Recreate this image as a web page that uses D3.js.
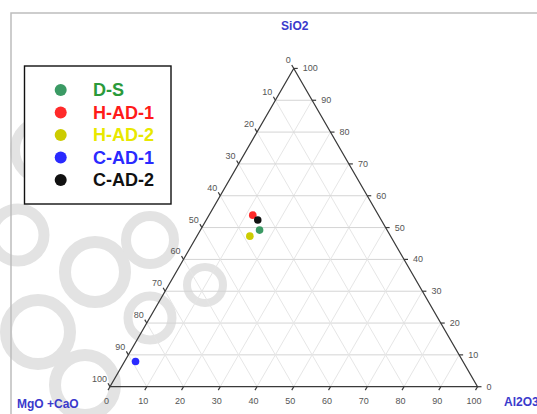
<!DOCTYPE html>
<html>
<head>
<meta charset="utf-8">
<script src="https://cdn.jsdelivr.net/npm/d3@7"></script>
<style>
  html, body { margin: 0; padding: 0; background: #fff; }
  svg { display: block; font-family: "Liberation Sans", Arial, sans-serif; }
</style>
</head>
<body>
<svg id="chart" width="537" height="414"></svg>
<script>
// ---- data ----
const categories = ["D-S", "H-AD-1", "H-AD-2", "C-AD-1", "C-AD-2"];
const sio2   = [49.2, 53.9, 47.3, 7.9, 52.4];
const al2o3  = [16.1, 11.9, 14.4, 3.0, 14.0];
const mgoCao = [34.7, 34.2, 38.3, 89.1, 33.6];
const tickValues = [0, 10, 20, 30, 40, 50, 60, 70, 80, 90, 100];
const axisTitles = ["SiO2", "MgO +CaO", "Al2O3"];

// ---- styles ----
const markerColors = ["#3b9a64", "#ff2a2a", "#cccc00", "#2a2aff", "#111111"];
const textColors   = ["#2a9a3a", "#ff1a1a", "#e8e800", "#2a2aff", "#111111"];

const svg = d3.select("#chart");

// background watermark (decorative, faint rings)
const wm = svg.append("g").attr("fill", "none").attr("stroke", "#e3e3e3");
[[95, 272, 30, 12], [38, 332, 32, 12], [150, 240, 24, 10], [85, 385, 30, 12],
 [18, 235, 26, 11], [150, 318, 22, 9], [45, 150, 30, 10], [205, 285, 18, 8]]
  .forEach(c => wm.append("circle").attr("cx", c[0]).attr("cy", c[1]).attr("r", c[2]).attr("stroke-width", c[3]));

// frame
svg.append("rect").attr("x", 11).attr("y", 13).attr("width", 560).attr("height", 440)
  .attr("fill", "none").attr("stroke", "#bdbdbd").attr("stroke-width", 1.5);

// ---- scales ----
const baseLeft = 110, baseRight = 477.5, baseY = 386.7;
const triH = (baseRight - baseLeft) * Math.sqrt(3) / 2;
const xs = d3.scaleLinear().domain([0, 100]).range([baseLeft, baseRight]);
const ys = d3.scaleLinear().domain([0, 100]).range([baseY, baseY - triH]);
// position from (Al2O3, SiO2) ; MgO+CaO = 100 - both
const px = (al, si) => xs(al + si / 2);
const py = (al, si) => ys(si);

// ---- grid ----
const grid = svg.append("g");
d3.range(10, 100, 10).forEach(v => {
  // constant SiO2 (horizontal)
  grid.append("line")
    .attr("x1", px(0, v)).attr("y1", py(0, v))
    .attr("x2", px(100 - v, v)).attr("y2", py(100 - v, v))
    .attr("stroke", "#d4d4d4").attr("stroke-width", 1);
  // constant Al2O3
  grid.append("line")
    .attr("x1", px(v, 0)).attr("y1", py(v, 0))
    .attr("x2", px(v, 100 - v)).attr("y2", py(v, 100 - v))
    .attr("stroke", "#e6e6e6").attr("stroke-width", 1);
  // constant MgO+CaO
  grid.append("line")
    .attr("x1", px(100 - v, 0)).attr("y1", py(100 - v, 0))
    .attr("x2", px(0, 100 - v)).attr("y2", py(0, 100 - v))
    .attr("stroke", "#e6e6e6").attr("stroke-width", 1);
});

// ---- triangle edges ----
const axesG = svg.append("g").attr("stroke", "#3a3a3a").attr("stroke-width", 1.2).attr("fill", "none");
axesG.append("path").attr("d",
  `M${px(0, 0)},${py(0, 0)} L${px(100, 0)},${py(100, 0)} L${px(0, 100)},${py(0, 100)} Z`);

const tickLen = 4;
const lab = svg.append("g").attr("font-size", 9).attr("fill", "#555");

tickValues.forEach(v => {
  // left axis: MgO+CaO (0 at apex, 100 at bottom-left)
  let x = px(0, 100 - v), y = py(0, 100 - v);
  axesG.append("line").attr("x1", x).attr("y1", y)
    .attr("x2", x - tickLen * 0.5).attr("y2", y - tickLen * 0.866);
  lab.append("text").attr("x", x - 3).attr("y", y - 8)
    .attr("text-anchor", "end").attr("dominant-baseline", "central").text(v);

  // right axis: SiO2 (100 at apex, 0 at bottom-right)
  x = px(100 - v, v); y = py(100 - v, v);
  axesG.append("line").attr("x1", x).attr("y1", y).attr("x2", x + tickLen).attr("y2", y);
  lab.append("text").attr("x", x + 9).attr("y", y)
    .attr("text-anchor", "start").attr("dominant-baseline", "central").text(v);

  // bottom axis: Al2O3 (0 at left, 100 at right)
  x = px(v, 0); y = py(v, 0);
  axesG.append("line").attr("x1", x).attr("y1", y)
    .attr("x2", x - tickLen * 0.5).attr("y2", y + tickLen * 0.866);
  lab.append("text").attr("x", x - 3.5).attr("y", y + 14)
    .attr("text-anchor", "middle").attr("dominant-baseline", "central").text(v);
});

// ---- axis titles ----
const titleG = svg.append("g").attr("font-size", 12).attr("font-weight", "bold").attr("fill", "#3a3acc");
titleG.append("text").attr("x", px(0, 100) + 1).attr("y", 26)
  .attr("text-anchor", "middle").attr("dominant-baseline", "central").text(axisTitles[0]);
titleG.append("text").attr("x", 17).attr("y", 404)
  .attr("text-anchor", "start").attr("dominant-baseline", "central").text(axisTitles[1]);
titleG.append("text").attr("x", 504).attr("y", 402)
  .attr("text-anchor", "start").attr("dominant-baseline", "central").text(axisTitles[2]);

// ---- points ----
svg.append("g").selectAll("circle")
  .data(categories.map((c, i) => ({ c, i, si: sio2[i], al: al2o3[i], m: mgoCao[i] })))
  .join("circle")
  .attr("cx", d => px(d.al, d.si))
  .attr("cy", d => py(d.al, d.si))
  .attr("r", 3.8)
  .attr("fill", d => markerColors[d.i]);

// ---- legend ----
const lg = svg.append("g");
lg.append("rect").attr("x", 24.5).attr("y", 66).attr("width", 146.5).attr("height", 138)
  .attr("fill", "#fff").attr("stroke", "#111").attr("stroke-width", 1.4);
const legendY = d3.scaleLinear().domain([0, 4]).range([90, 180]);
categories.forEach((c, i) => {
  lg.append("circle").attr("cx", 60.7).attr("cy", legendY(i)).attr("r", 6).attr("fill", markerColors[i]);
  lg.append("text").attr("x", 93).attr("y", legendY(i))
    .attr("dominant-baseline", "central").attr("font-size", 18).attr("font-weight", "bold")
    .attr("fill", textColors[i]).text(c);
});
</script>
</body>
</html>
